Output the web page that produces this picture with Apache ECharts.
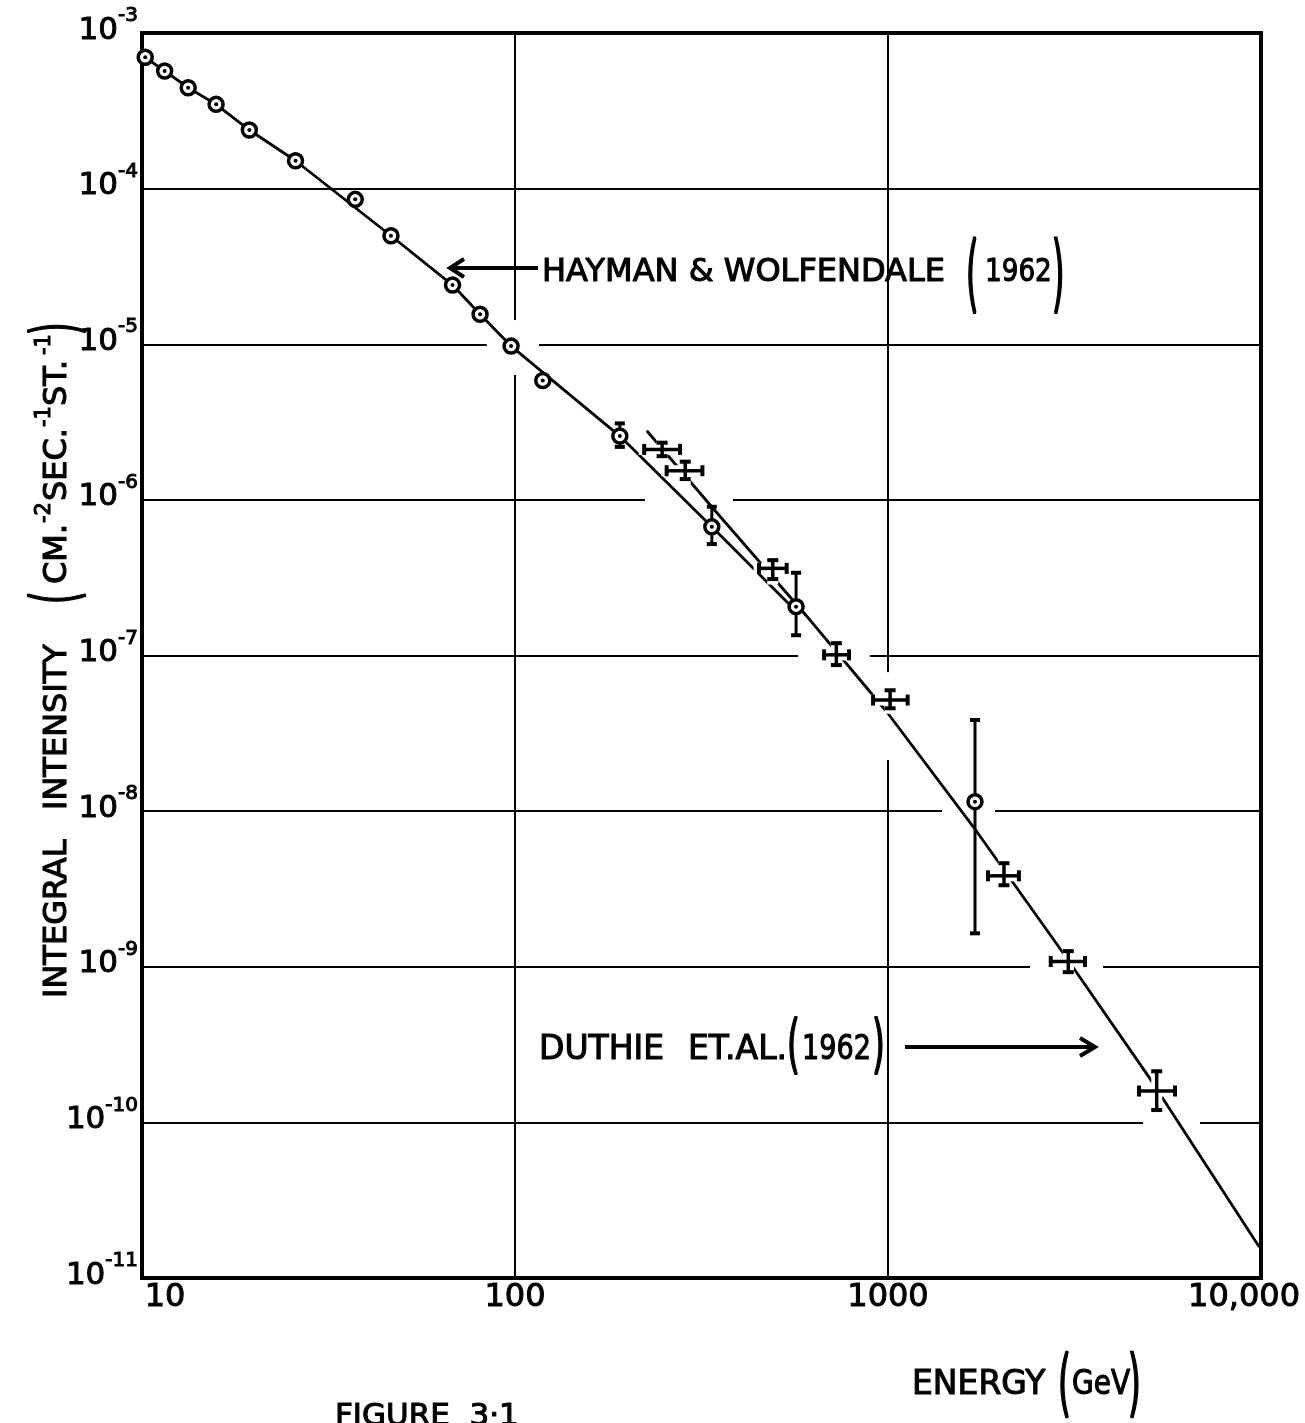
<!DOCTYPE html>
<html>
<head>
<meta charset="utf-8">
<script src="https://cdn.jsdelivr.net/npm/echarts@6/dist/echarts.min.js"></script>
<style>
  html, body { margin: 0; padding: 0; background: #fff; }
  #chart { width: 1305px; height: 1423px; }
</style>
</head>
<body>
<div id="chart"></div>
<script>
// Integral muon intensity vs energy (log-log)

// Hayman & Wolfendale (1962) measurements (GeV, cm^-2 s^-1 sr^-1)
const hwEnergy    = [10.2, 11.5, 13.3, 15.8, 19.4, 25.8, 37.3, 46.5, 68.0, 80.6, 97.6, 118.7, 191, 337, 567, 1711];
const hwIntensity = [6.98e-4, 5.70e-4, 4.45e-4, 3.48e-4, 2.38e-4, 1.51e-4, 8.53e-5, 4.98e-5, 2.40e-5, 1.56e-5, 9.73e-6, 5.85e-6, 2.57e-6, 6.71e-7, 2.06e-7, 1.15e-8];
const hwErrLow    = [null, null, null, null, null, null, null, null, null, null, null, null, 2.19e-6, 5.20e-7, 1.35e-7, 1.64e-9];
const hwErrHigh   = [null, null, null, null, null, null, null, null, null, null, null, null, 3.10e-6, 9.03e-7, 3.40e-7, 3.85e-8];

// Hayman & Wolfendale fitted spectrum
const hwCurveEnergy    = [10.2, 11.5, 13.3, 15.8, 19.4, 25.8, 46.5, 68.0, 80.6, 97.6, 191, 337, 546];
const hwCurveIntensity = [6.98e-4, 5.70e-4, 4.45e-4, 3.48e-4, 2.38e-4, 1.51e-4, 4.98e-5, 2.40e-5, 1.56e-5, 9.73e-6, 2.57e-6, 6.71e-7, 2.11e-7];

// Duthie et al. (1962) measurements with energy and intensity ranges
const duEnergy        = [248, 286, 491, 727, 1013, 2046, 3043, 5253];
const duEnergyLow     = [222, 255, 451, 674, 912, 1854, 2731, 4710];
const duEnergyHigh    = [277, 318, 535, 786, 1129, 2244, 3375, 5882];
const duIntensity     = [2.11e-6, 1.54e-6, 3.63e-7, 1.01e-7, 5.17e-8, 3.84e-9, 1.08e-9, 1.59e-10];
const duIntensityLow  = [1.91e-6, 1.36e-6, 3.10e-7, 8.68e-8, 4.58e-8, 3.34e-9, 9.23e-10, 1.20e-10];
const duIntensityHigh = [2.33e-6, 1.76e-6, 4.10e-7, 1.20e-7, 5.98e-8, 4.63e-9, 1.26e-9, 2.13e-10];

// Duthie et al. fitted spectrum
const duCurveEnergy    = [225.5, 336.7, 618, 992, 1693, 2951, 5040, 9895];
const duCurveIntensity = [2.78e-6, 9.03e-7, 1.69e-7, 4.35e-8, 7.93e-9, 1.22e-9, 1.91e-10, 1.58e-11];

// Axis ticks
const xTickValues = [10, 100, 1000, 10000];
const xTickText   = ['10', '100', '1000', '10,000'];
const yTickExponents = [-3, -4, -5, -6, -7, -8, -9, -10, -11];

// Breaks in the hand-ruled grid: [xFrom, yFrom, xTo, yTo] in axis units
const gridBreaks = [
  [84, 1e-5, 116, 1e-5],
  [223, 1e-6, 384, 1e-6],
  [574, 1e-7, 894, 1e-7],
  [1396, 1e-8, 1936, 1e-8],
  [2403, 1e-9, 3771, 1e-9],
  [4828, 1e-10, 6863, 1e-10],
  [100, 1.43e-5, 100, 6.34e-6],
  [1000, 7.82e-8, 1000, 2.13e-8]
];

const FONT = '"DejaVu Sans", "Liberation Sans", sans-serif';
const INK = '#000';

const zip = (a, b) => a.map((v, i) => [v, b[i]]);

const hwPoints = zip(hwEnergy, hwIntensity);
const hwBars = hwEnergy
  .map((e, i) => [e, hwErrLow[i], hwErrHigh[i]])
  .filter(d => d[1] != null);
const duCrosses = duEnergy.map((e, i) => [e, duIntensity[i], duEnergyLow[i], duEnergyHigh[i], duIntensityLow[i], duIntensityHigh[i]]);

function seg(a, b, w, color) {
  return { type: 'line', shape: { x1: a[0], y1: a[1], x2: b[0], y2: b[1] }, style: { stroke: color, lineWidth: w, lineCap: 'butt' } };
}

function renderBreaks(params, api) {
  const a = api.coord([api.value(0), api.value(1)]);
  const b = api.coord([api.value(2), api.value(3)]);
  return seg(a, b, 6, '#fff');
}

function renderVBar(params, api) {
  const x = api.value(0);
  const lo = api.coord([x, api.value(1)]);
  const hi = api.coord([x, api.value(2)]);
  const c = 5;
  return { type: 'group', children: [
    seg(lo, hi, 3, INK),
    seg([lo[0] - c, lo[1]], [lo[0] + c, lo[1]], 4, INK),
    seg([hi[0] - c, hi[1]], [hi[0] + c, hi[1]], 4, INK)
  ] };
}

function renderCross(params, api) {
  const e = api.value(0), v = api.value(1);
  const l = api.coord([api.value(2), v]);
  const r = api.coord([api.value(3), v]);
  const b = api.coord([e, api.value(4)]);
  const t = api.coord([e, api.value(5)]);
  const c = 5.5;
  const parts = (color, w, wc) => [
    seg(l, r, w, color),
    seg(b, t, w, color),
    seg([l[0], l[1] - c], [l[0], l[1] + c], wc, color),
    seg([r[0], r[1] - c], [r[0], r[1] + c], wc, color),
    seg([b[0] - c, b[1]], [b[0] + c, b[1]], wc, color),
    seg([t[0] - c, t[1]], [t[0] + c, t[1]], wc, color)
  ];
  return { type: 'group', children: parts('#fff', 11, 11).concat(parts(INK, 3.5, 4)) };
}

function txt(x, y, text, size, extra) {
  return Object.assign({
    type: 'text', x: x, y: y, silent: true,
    style: { text: text, font: size + 'px ' + FONT, fill: INK, stroke: INK, lineWidth: 1.1,
             textAlign: 'left', align: 'left', textVerticalAlign: 'middle', verticalAlign: 'middle' }
  }, extra || {});
}

function line(x1, y1, x2, y2, w) {
  return { type: 'line', silent: true, shape: { x1, y1, x2, y2 }, style: { stroke: INK, lineWidth: w || 3 } };
}

function arrowHead(points) {
  return { type: 'polyline', silent: true, shape: { points: points }, style: { stroke: INK, lineWidth: 4, fill: null, lineJoin: 'miter' } };
}

const chart = echarts.init(document.getElementById('chart'), null, { renderer: 'canvas' });

const labelInk = { color: INK, fontFamily: FONT, textBorderColor: INK, textBorderWidth: 1 };

chart.setOption({
  backgroundColor: '#fff',
  animation: false,
  grid: {
    left: 142, top: 33, width: 1119, height: 1245,
    show: true, borderColor: INK, borderWidth: 4, backgroundColor: 'transparent'
  },
  xAxis: {
    type: 'log', logBase: 10, min: 10, max: 10000,
    axisLine: { show: false }, axisTick: { show: false },
    splitLine: { show: true, lineStyle: { color: INK, width: 2 } },
    axisLabel: Object.assign({
      margin: 4,
      fontSize: 32,
      formatter: function (v) {
        const i = xTickValues.indexOf(Math.round(v));
        const s = i >= 0 ? xTickText[i] : '';
        if (i === 0) return '{l|' + s + '}';
        if (i === xTickValues.length - 1) return '{r|' + s + '}';
        return s;
      },
      rich: {
        l: Object.assign({ fontSize: 32, padding: [0, 0, 0, 46] }, labelInk),
        r: Object.assign({ fontSize: 32, padding: [0, 34, 0, 0] }, labelInk)
      }
    }, labelInk)
  },
  yAxis: {
    type: 'log', logBase: 10, min: 1e-11, max: 1e-3,
    axisLine: { show: false }, axisTick: { show: false },
    splitLine: { show: true, lineStyle: { color: INK, width: 2 } },
    axisLabel: {
      margin: 4,
      padding: [0, 0, 14, 0],
      formatter: function (v) {
        const e = Math.round(Math.log10(v));
        return yTickExponents.indexOf(e) >= 0 ? '{b|10}{s|' + e + '}' : '';
      },
      rich: {
        b: Object.assign({ fontSize: 31, verticalAlign: 'bottom' }, labelInk),
        s: Object.assign({ fontSize: 20, verticalAlign: 'top', padding: [0, 0, 20, 0] }, labelInk)
      }
    }
  },
  series: [
    {
      name: 'grid breaks', type: 'custom', z: 1, silent: true,
      renderItem: renderBreaks,
      encode: { x: [0, 2], y: [1, 3] },
      data: gridBreaks
    },
    {
      name: 'Hayman & Wolfendale fit', type: 'line', z: 2, silent: true,
      showSymbol: false, symbol: 'none',
      lineStyle: { color: INK, width: 2.8 },
      data: zip(hwCurveEnergy, hwCurveIntensity)
    },
    {
      name: 'Duthie fit', type: 'line', z: 2, silent: true,
      showSymbol: false, symbol: 'none',
      lineStyle: { color: INK, width: 2.8 },
      data: zip(duCurveEnergy, duCurveIntensity)
    },
    {
      name: 'Duthie et al. (1962)', type: 'custom', z: 3, silent: true,
      renderItem: renderCross,
      encode: { x: [0, 2, 3], y: [1, 4, 5] },
      data: duCrosses
    },
    {
      name: 'Hayman errors', type: 'custom', z: 3, silent: true,
      renderItem: renderVBar,
      encode: { x: 0, y: [1, 2] },
      data: hwBars
    },
    {
      name: 'Hayman & Wolfendale (1962)', type: 'scatter', z: 4, silent: true,
      symbol: 'circle', symbolSize: 14,
      itemStyle: { color: '#fff', borderColor: INK, borderWidth: 3.5, opacity: 1 },
      data: hwPoints
    },
    {
      name: 'Hayman centres', type: 'scatter', z: 5, silent: true,
      symbol: 'circle', symbolSize: 4,
      itemStyle: { color: INK, opacity: 1 },
      data: hwPoints
    }
  ],
  graphic: {
    elements: [
      // Hayman & Wolfendale label with arrow
      line(538, 268, 452, 268, 4),
      arrowHead([[464, 259], [450, 268], [464, 277]]),
      txt(542, 273, 'HAYMAN & WOLFENDALE', 32),
      txt(966, 280, '(', 32, { scaleY: 2.6 }),
      txt(985, 273, '1962', 32, { scaleX: 0.82 }),
      txt(1052, 280, ')', 32, { scaleY: 2.6 }),

      // Duthie et al. label with arrow
      txt(539, 1050, 'DUTHIE', 33),
      txt(688, 1050, 'ET.AL.', 33),
      txt(787, 1049, '(', 33, { scaleY: 1.95 }),
      txt(802, 1050, '1962', 33, { scaleX: 0.82 }),
      txt(872, 1049, ')', 33, { scaleY: 1.95 }),
      line(905, 1047, 1092, 1047, 4),
      arrowHead([[1080, 1038], [1095, 1047], [1080, 1056]]),

      // Vertical axis title
      {
        type: 'group', x: 58, y: 998, rotation: Math.PI / 2, silent: true,
        children: [
          txt(0, 0, 'INTEGRAL', 32),
          txt(188, 0, 'INTENSITY', 32),
          txt(394, 2, '(', 32, { scaleY: 2.0 }),
          txt(414, 0, 'CM.', 32),
          txt(475, -13, '-2', 21),
          txt(497, 0, 'SEC.', 32),
          txt(571, -13, '-1', 21),
          txt(592, 0, 'ST.', 32),
          txt(643, -13, '-1', 21),
          txt(663, 2, ')', 32, { scaleY: 2.0 })
        ]
      },

      // Horizontal axis title
      txt(912, 1385, 'ENERGY', 33),
      txt(1058, 1389, '(', 33, { scaleY: 2.2 }),
      txt(1072, 1385, 'GeV', 33, { scaleX: 0.85 }),
      txt(1128, 1389, ')', 33, { scaleY: 2.2 }),

      // Figure caption
      txt(335, 1417, 'FIGURE  3·1', 31)
    ]
  }
});
</script>
</body>
</html>
